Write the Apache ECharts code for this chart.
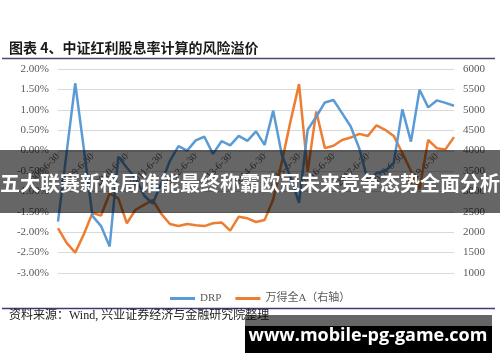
<!DOCTYPE html>
<html>
<head>
<meta charset="utf-8">
<script src="https://cdn.jsdelivr.net/npm/echarts@6/dist/echarts.min.js"></script>
<style>html,body{margin:0;padding:0;background:#fff;}#c{width:500px;height:362px;}</style>
</head>
<body>
<div id="c"></div>
<script>
const categories = ['2008-6-30','2008-9-30','2008-12-31','2009-3-31','2009-6-30','2009-9-30','2009-12-31','2010-3-31','2010-6-30','2010-9-30','2010-12-31','2011-3-31','2011-6-30','2011-9-30','2011-12-31','2012-3-31','2012-6-30','2012-9-30','2012-12-31','2013-3-31','2013-6-30','2013-9-30','2013-12-31','2014-3-31','2014-6-30','2014-9-30','2014-12-31','2015-3-31','2015-6-30','2015-9-30','2015-12-31','2016-3-31','2016-6-30','2016-9-30','2016-12-31','2017-3-31','2017-6-30','2017-9-30','2017-12-31','2018-3-31','2018-6-30','2018-9-30','2018-12-31','2019-3-31','2019-6-30','2019-9-30','2019-12-31'];
const drp = [-1.74,-0.05,1.65,0.05,-1.60,-1.85,-2.35,-0.15,-0.42,-0.67,-1.10,-1.30,-0.80,-0.25,0.11,0.00,0.25,0.34,-0.08,0.23,0.13,0.36,0.24,0.47,0.14,0.98,-0.10,-0.65,-1.28,0.51,0.83,1.18,1.24,0.92,0.59,0.05,-0.75,-0.55,-0.50,-0.30,1.01,0.22,1.49,1.06,1.23,1.17,1.10];
const windA = [2100,1740,1500,1950,2470,2410,2950,2830,2220,2550,2670,2790,2450,2200,2150,2200,2170,2150,2220,2240,2040,2380,2340,2250,2300,2800,3720,4710,5630,3480,4960,4060,4120,4260,4320,4410,4360,4620,4510,4360,3940,3500,3050,4260,4060,4030,4330];
const seriesNames = ['DRP','万得全A（右轴）'];
const titleText = '图表 4、中证红利股息率计算的风险溢价';
const sourceText = '资料来源：Wind, 兴业证券经济与金融研究院整理';
const bannerText = '五大联赛新格局谁能最终称霸欧冠未来竞争态势全面分析';
const watermarkText = 'www.mobile-pg-game.com';

const chart = echarts.init(document.getElementById('c'), null, {renderer:'canvas'});
const serif = '"Liberation Serif", "Noto Sans CJK SC", serif';
const axisLabelStyle = {color:'#595959', fontFamily: serif, fontSize: 11};
chart.setOption({
  animation:false,
  backgroundColor:'#fff',
  grid:{left:58, top:69, width:396, height:204, containLabel:false},
  legend:{
    data:seriesNames, left:165, top:288, icon:'rect', itemWidth:25, itemHeight:3, itemGap:14,
    textStyle:{color:'#595959', fontFamily:serif, fontSize:11}
  },
  xAxis:{
    type:'category', data:categories, boundaryGap:false, position:'bottom', offset:-122,
    axisLine:{onZero:false, lineStyle:{color:'#d9d9d9', width:1}},
    axisTick:{show:true, interval:3, length:4, lineStyle:{color:'#d9d9d9'}},
    axisLabel:{interval:3, rotate:45, color:'#595959', fontFamily:serif, fontSize:10, margin:4},
    splitLine:{show:false}
  },
  yAxis:[
    {type:'value', min:-3, max:2, interval:0.5, position:'left',
     axisLine:{show:false}, axisTick:{show:false},
     axisLabel:Object.assign({formatter:v=>v.toFixed(2)+'%', margin:9}, axisLabelStyle),
     splitLine:{lineStyle:{color:'#d9d9d9', width:1}}},
    {type:'value', min:1000, max:6000, interval:500, position:'right',
     axisLine:{show:false}, axisTick:{show:false},
     axisLabel:Object.assign({formatter:v=>String(v), margin:9}, axisLabelStyle),
     splitLine:{show:false}}
  ],
  series:[
    {name:seriesNames[0], type:'line', data:drp, yAxisIndex:0, symbol:'none',
     lineStyle:{color:'#5B9BD5', width:2.5}, itemStyle:{color:'#5B9BD5'}, z:3},
    {name:seriesNames[1], type:'line', data:windA, yAxisIndex:1, symbol:'none',
     lineStyle:{color:'#ED7D31', width:2.5}, itemStyle:{color:'#ED7D31'}, z:2}
  ],
  graphic:[
    {type:'text', z:100, style:{text:titleText, x:9, y:48, textAlign:'left', textVerticalAlign:'middle',
      font:'bold 14px "Noto Sans CJK SC"', fill:'#1a1a1a'}},
    {type:'line', z:100, shape:{x1:2, y1:58.5, x2:495, y2:58.5}, style:{stroke:'#4a4a6a', lineWidth:1.5}},
    {type:'line', z:100, shape:{x1:2, y1:308.5, x2:495, y2:308.5}, style:{stroke:'#3a3a7a', lineWidth:1.5}},
    {type:'text', z:100, style:{text:sourceText, x:9, y:316, textAlign:'left', textVerticalAlign:'middle',
      font:'12px "Liberation Serif", "Noto Sans CJK SC"', fill:'#222'}},
    {type:'rect', z:110, shape:{x:0, y:150, width:500, height:63}, style:{fill:'rgba(0,0,0,0.6)'}},
    {type:'text', z:111, style:{text:bannerText, x:250, y:183, textAlign:'center', textVerticalAlign:'middle',
      font:'bold 20px "Noto Sans CJK SC"', fill:'#fff'}},
    {type:'rect', z:110, shape:{x:245, y:315, width:247, height:11}, style:{fill:'rgba(0,0,0,0.6)'}},
    {type:'rect', z:110, shape:{x:245, y:326, width:247, height:27}, style:{fill:'#000'}},
    {type:'text', z:111, style:{text:watermarkText, x:368, y:336, textAlign:'center', textVerticalAlign:'middle',
      font:'bold 18px "Open Sans"', fill:'#fff'}}
  ]
});
</script>
</body>
</html>
